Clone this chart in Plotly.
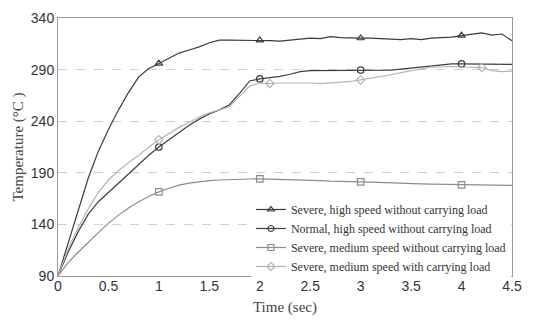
import plotly.graph_objects as go

time = [round(i * 0.1, 1) for i in range(46)]

severe_high = [90, 121, 152, 185, 211, 232, 251, 268, 283, 291,
               296, 301, 306, 309, 312, 316, 318.5, 318.5, 318.5, 318.5,
               318.5, 318, 317.5, 318.5, 319, 320.5, 320, 322, 321, 320.5,
               320.5, 320.5, 320, 319.5, 319, 320, 319, 320.5, 321, 321.5,
               323, 324, 325.5, 323.5, 324.5, 318]
normal_high = [90, 113, 133, 150, 162, 171, 180, 189, 198, 207,
               215, 222, 229, 236, 242, 247, 251, 256, 267, 279,
               281, 282, 283.5, 285.5, 288, 289, 289, 289, 289, 289,
               289.5, 289.5, 289.5, 289.5, 290.5, 291.5, 292.5, 293.5, 294.5, 295.5,
               295.5, 295.5, 295.5, 295.5, 295, 295]
severe_medium = [90, 103, 113, 123, 132, 141, 149, 156, 162, 167,
                 171.5, 175, 178, 180, 181.5, 182.5, 183, 183.5, 184, 184,
                 184.2, 184, 183.8, 183.5, 183.3, 183, 182.5, 182, 182, 181.5,
                 181.3, 181, 180.5, 180, 179.8, 179.5, 179.2, 179, 178.8, 178.5,
                 178.3, 178.2, 178.1, 178, 178, 177.8]
severe_medium_load = [90, 116, 137, 155, 171, 183, 192, 200, 207, 215,
                      222, 228, 234, 239, 244, 248, 251, 254, 264, 274,
                      277, 276.5, 277, 277, 277.5, 277, 276.5, 277, 277.5, 278.5,
                      280, 281.5, 283, 285, 287, 289, 291, 292.5, 292.5, 293,
                      292.5, 292.5, 292, 289, 288, 288.5]

series_names = ["Severe, high speed without carrying load",
                "Normal, high speed without carrying load",
                "Severe, medium speed without carrying load",
                "Severe, medium speed with carrying load"]
marker_times = [[1, 2, 3, 4], [1, 2, 3, 4], [1, 2, 3, 4], [1, 2.1, 3, 4.2]]

x_ticks = [0, 0.5, 1, 1.5, 2, 2.5, 3, 3.5, 4, 4.5]
y_ticks = [90, 140, 190, 240, 290, 340]

series = [severe_high, normal_high, severe_medium, severe_medium_load]
colors = ["#3a3a3a", "#3f3f3f", "#8c8c8c", "#b4b4b4"]
symbols = ["triangle-up-open", "circle-open", "square-open", "diamond-open"]

fig = go.Figure()
for i, ys in enumerate(series):
    fig.add_trace(go.Scatter(x=time, y=ys, mode="lines", showlegend=False,
                             line=dict(color=colors[i], width=1.2)))
    mx = marker_times[i]
    my = [ys[time.index(t)] for t in mx]
    fig.add_trace(go.Scatter(x=mx, y=my, mode="markers", showlegend=False,
                             marker=dict(symbol=symbols[i], size=6.5, color=colors[i],
                                         line=dict(color=colors[i], width=1.2))))
for i in range(4):
    fig.add_trace(go.Scatter(x=[None], y=[None], mode="lines+markers", name=series_names[i],
                             line=dict(color=colors[i], width=1.2),
                             marker=dict(symbol=symbols[i], size=6, color=colors[i],
                                         line=dict(color=colors[i], width=1.2))))

fig.update_layout(
    width=525, height=318,
    margin=dict(l=50, r=21, t=10, b=50, autoexpand=False),
    paper_bgcolor="white", plot_bgcolor="white",
    font=dict(family="Liberation Sans, Arial", size=14, color="#333"),
    legend=dict(x=0.425, y=0.314, xanchor="left", yanchor="top",
                bgcolor="white", borderwidth=0,
                font=dict(family="Liberation Serif, Times New Roman", size=12, color="#333"),
                tracegroupgap=0, itemwidth=30),
    xaxis=dict(range=[0, 4.5], tickvals=x_ticks, ticktext=[str(v) for v in x_ticks],
               showgrid=False, zeroline=False, showline=True, mirror=True,
               linecolor="#999", linewidth=1, ticks="", automargin=False,
               ticklabelstandoff=-3,
               title=dict(text="Time (sec)", standoff=8,
                          font=dict(family="Liberation Serif, Times New Roman", size=15, color="#444"))),
    yaxis=dict(range=[90, 340], tickvals=y_ticks, ticktext=[str(v) for v in y_ticks],
               showgrid=True, gridcolor="#d0d0d0", griddash="dash", gridwidth=1,
               zeroline=False, showline=True, mirror=True,
               linecolor="#999", linewidth=1, ticks="", automargin=False,
               title=dict(text="Temperature (°C )", standoff=3,
                          font=dict(family="Liberation Serif, Times New Roman", size=15, color="#444"))),
)

fig.write_html("out.html")
